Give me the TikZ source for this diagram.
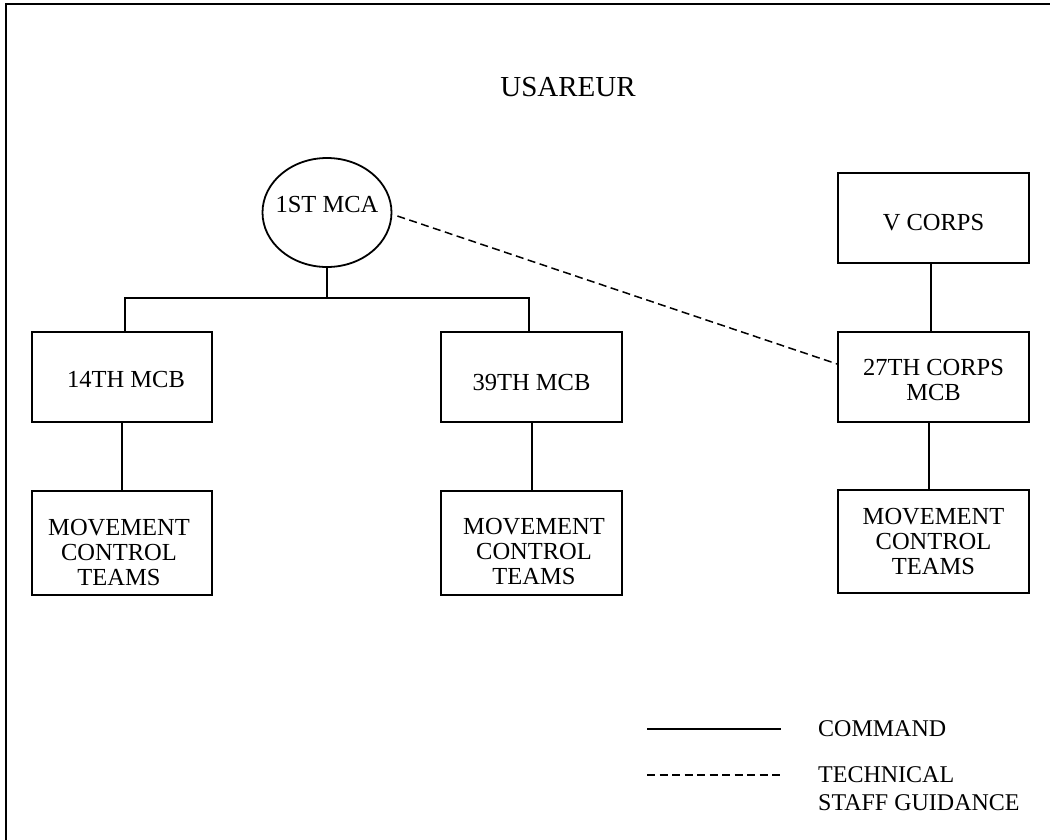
\documentclass[tikz,border=0pt]{standalone}
\usepackage{fontspec}
\setmainfont{Liberation Serif}
\usetikzlibrary{shapes.geometric}
\newcommand\fsn{\fontsize{24.5}{25}\selectfont}
\newcommand\fsl{\fontsize{24}{28}\selectfont}
\newcommand\fst{\fontsize{29}{32}\selectfont}
\tikzset{
  box/.style={draw, line width=1.8pt, rectangle, inner sep=0pt, minimum width=180pt, minimum height=90pt},
  lbl/.style={align=center, font=\fsn, inner sep=0pt},
  conn/.style={line width=1.7pt},
  tech/.style={line width=1.5pt, dash pattern=on 8pt off 4.5pt},
  frame/.style={line width=2.2pt}
}
\begin{document}
\begin{tikzpicture}[x=1pt,y=-1pt]
\useasboundingbox (0,0) rectangle (1050,839);
\fill[white] (0,0) rectangle (1050,839);
% frame (only top and left edges inside the picture)
\coordinate (frTR) at (1060,4);
\coordinate (frTL) at (5.7,4);
\coordinate (frBL) at (5.7,850);
\draw[frame] (frTR) -- (frTL) -- (frBL);

\node[font=\fst, inner sep=0pt, anchor=base] (usareur) at (568,96.7) {USAREUR};

\node[draw, ellipse, line width=1.8pt, inner sep=0pt, minimum width=129pt, minimum height=109pt,
      label={[lbl, yshift=8pt]center:1ST MCA}] (mca) at (327,212.5) {};

\node[box, minimum width=180pt, minimum height=90pt,
      label={[lbl, xshift=4pt, yshift=-3pt]center:14TH MCB}] (b14) at (122,377) {};
\node[box, minimum width=181pt, minimum height=90pt,
      label={[lbl, yshift=-6pt]center:39TH MCB}] (b39) at (531.5,377) {};
\node[box, minimum width=191pt, minimum height=90pt,
      label={[lbl, yshift=-5pt]center:V CORPS}] (vc) at (933.5,218) {};
\node[box, minimum width=191pt, minimum height=90pt,
      label={[lbl, yshift=-3pt]center:27TH CORPS\\MCB}] (b27) at (933.5,377) {};

\node[box, minimum width=180pt, minimum height=104pt,
      label={[lbl, xshift=-3pt, yshift=-9pt]center:MOVEMENT\\CONTROL\\TEAMS}] (m14) at (122,543) {};
\node[box, minimum width=181pt, minimum height=104pt,
      label={[lbl, xshift=2.5pt, yshift=-8pt]center:MOVEMENT\\CONTROL\\TEAMS}] (m39) at (531.5,543) {};
\node[box, minimum width=191pt, minimum height=103pt,
      label={[lbl]center:MOVEMENT\\CONTROL\\TEAMS}] (m27) at (933.5,541.5) {};

% command lines
\coordinate (bus) at (327,298);
\draw[conn] (mca.south) -- (bus);
\draw[conn] ([xshift=3pt]b14.north) -- ([xshift=3pt]b14.north |- bus)
   -- ([xshift=-2.5pt]b39.north |- bus) -- ([xshift=-2.5pt]b39.north);
\draw[conn] (b14.south) -- (m14.north);
\draw[conn] ([xshift=0.5pt]b39.south) -- ([xshift=0.5pt]m39.north);
\draw[conn] ([xshift=-2.5pt]vc.south) -- ([xshift=-2.5pt]b27.north);
\draw[conn] ([xshift=-4.5pt]b27.south) -- ([xshift=-4.5pt]m27.north);

% technical staff guidance
\draw[tech] ([xshift=5pt,yshift=-3.5pt]mca.east) -- ([yshift=13pt]b27.west);

% legend
\coordinate (cmdA) at (647,729);
\coordinate (cmdB) at (781,729);
\coordinate (tecA) at (647,775);
\coordinate (tecB) at (781,775);
\draw[conn] (cmdA) -- (cmdB);
\draw[tech] (tecA) -- (tecB);
\node[font=\fsl, inner sep=0pt, anchor=base west] (lcmd) at (818,736.7) {COMMAND};
\node[font=\fsl, align=left, inner sep=0pt, anchor=north west] (ltec) at (818,766) {TECHNICAL\\STAFF GUIDANCE};
\end{tikzpicture}
\end{document}
